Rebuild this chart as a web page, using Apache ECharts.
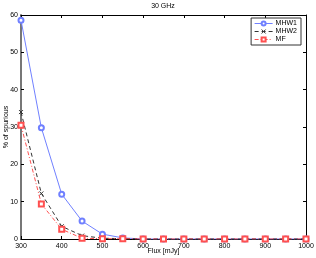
<!DOCTYPE html>
<html><head><meta charset="utf-8">
<script src="https://cdn.jsdelivr.net/npm/echarts@6/dist/echarts.min.js"></script>
<style>html,body{margin:0;padding:0;background:#fff}#c{width:316px;height:258px}</style>
</head><body><div id="c"></div>
<script>
const flux = [300,350,400,450,500,550,600,650,700,750,800,850,900,950,1000];
const mhw1 = [58.6,29.8,12.0,4.8,1.3,0.3,0,0,0,0,0,0,0,0,0];
const mhw2 = [34.0,12.2,3.4,0.9,0.2,0.1,0,0,0,0,0,0,0,0,0];
const mf   = [30.5,9.4,2.6,0.2,0.1,0.05,0,0,0,0,0,0,0,0,0];
const xTicks = [300,400,500,600,700,800,900,1000];
const yTicks = [0,10,20,30,40,50,60];
const font = 'Liberation Sans, Arial, sans-serif';
const pair = a => flux.map((x,i)=>[x,a[i]]);
const xMark = 'path://M0,0L10,10M10,0L0,10';
const chart = echarts.init(document.getElementById('c'));
const axisCommon = {
  axisLine:{show:true,onZero:false,lineStyle:{color:'#000',width:1}},
  axisTick:{show:true,inside:true,length:3,lineStyle:{color:'#000'}},
  splitLine:{show:false}
};
chart.setOption({
  animation:false,
  title:{text:'30 GHz',left:163,top:3,padding:0,textAlign:'center',textStyle:{fontSize:7,fontWeight:'normal',color:'#000',fontFamily:font}},
  grid:{left:21,right:10,top:15,bottom:19,show:false,containLabel:false,outerBoundsMode:'none'},
  legend:{
    orient:'vertical',right:15,top:18,
    backgroundColor:'#fff',borderColor:'#333',borderWidth:1,borderRadius:0,
    padding:[2,4,2,3],itemGap:1,itemWidth:18,itemHeight:5,
    itemStyle:{borderWidth:1},lineStyle:{width:1},
    textStyle:{fontSize:7,color:'#000',fontFamily:font,padding:[0,0,0,-2]},
    data:['MHW1','MHW2','MF']
  },
  xAxis:[
    Object.assign({type:'value',min:300,max:1000,interval:100,position:'bottom',
      name:'Flux [mJy]',nameLocation:'middle',nameGap:9,nameMoveOverlap:false,
      nameTextStyle:{fontSize:7,color:'#000',fontFamily:font},
      axisLabel:{fontSize:7,color:'#000',fontFamily:font,margin:4,
        formatter:v=>xTicks.includes(v)?String(v):''}},axisCommon),
    Object.assign({type:'value',min:300,max:1000,interval:100,position:'top',axisLabel:{show:false}},axisCommon)
  ],
  yAxis:[
    Object.assign({type:'value',min:0,max:60,interval:10,position:'left',
      name:'% of spurious',nameLocation:'middle',nameGap:11,nameRotate:90,nameMoveOverlap:false,
      nameTextStyle:{fontSize:7,color:'#000',fontFamily:font},
      axisLabel:{fontSize:7,color:'#000',fontFamily:font,margin:3,
        formatter:v=>yTicks.includes(v)?String(v):''}},axisCommon,
      {axisLine:{show:true,onZero:false,lineStyle:{color:'#777',width:2}}}),
    Object.assign({type:'value',min:0,max:60,interval:10,position:'right',axisLabel:{show:false}},axisCommon)
  ],
  series:[
    {name:'MHW1',type:'line',data:pair(mhw1),symbol:'emptyCircle',symbolSize:5,
      lineStyle:{color:'#7080ff',width:1},itemStyle:{color:'#7080ff',borderWidth:1},z:3},
    {name:'MHW2',type:'line',data:pair(mhw2),symbol:xMark,symbolSize:4,
      lineStyle:{color:'#333',width:1,type:[4,3]},itemStyle:{color:'#333',borderColor:'#333',borderWidth:1},z:4},
    {name:'MF',type:'line',data:pair(mf),symbol:'emptyRect',symbolSize:5,
      lineStyle:{color:'#ff5050',width:1,type:[4,2,1,2]},itemStyle:{color:'#ff5050',borderWidth:1},z:5}
  ]
});
</script></body></html>
